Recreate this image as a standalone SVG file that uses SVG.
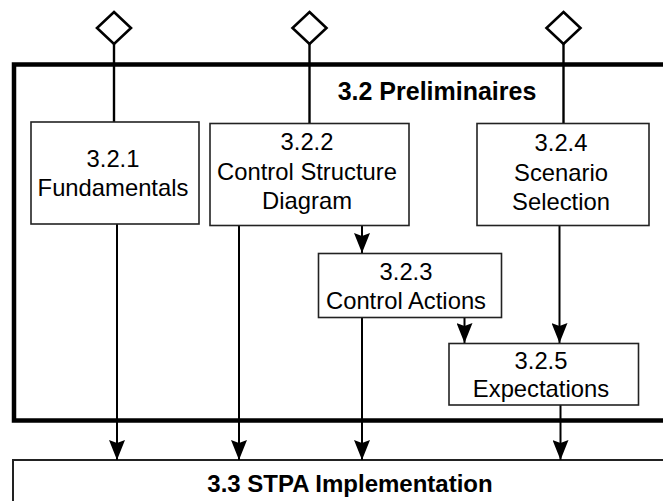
<svg xmlns="http://www.w3.org/2000/svg" width="663" height="501" viewBox="0 0 663 501">
  <defs>
    <style>
      .node rect { fill: #fff; stroke: #222; stroke-width: 1.6; }
      .label { font-family: "Liberation Sans", Arial, Helvetica, sans-serif; font-size: 23.8px; fill: #000; text-anchor: middle; }
      .title { font-family: "Liberation Sans", Arial, Helvetica, sans-serif; font-weight: bold; fill: #000; text-anchor: middle; }
      .wire { stroke: #000; stroke-width: 2; fill: none; }
      .feed { stroke: #000; stroke-width: 2.4; fill: none; }
      .diamond { fill: #fff; stroke: #000; stroke-width: 2.6; }
    </style>
    <marker id="head" markerUnits="userSpaceOnUse" markerWidth="20" markerHeight="16" viewBox="0 0 20 16" refX="20" refY="8" orient="auto">
      <path d="M0,0 L20,8 L0,16 L3,8 Z" fill="#000"/>
    </marker>
  </defs>

  <rect width="663" height="501" fill="#fff"/>

  <!-- Outer section: 3.2 Preliminaires -->
  <g id="section-3-2">
    <rect x="14" y="64.5" width="680" height="356" fill="none" stroke="#000" stroke-width="4.5"/>
    <text class="title" x="437" y="100" font-size="25px">3.2 Preliminaires</text>
  </g>

  <!-- Target section: 3.3 STPA Implementation -->
  <g id="section-3-3">
    <rect x="13" y="460" width="680" height="80" fill="#fff" stroke="#222" stroke-width="2"/>
    <text class="title" x="350" y="492" font-size="24px">3.3 STPA Implementation</text>
  </g>

  <!-- Connectors -->
  <g id="connectors">
    <!-- inputs from diamonds -->
    <line class="feed" x1="114" y1="44" x2="114" y2="122"/>
    <line class="feed" x1="309.5" y1="44" x2="309.5" y2="123"/>
    <line class="feed" x1="563.5" y1="44" x2="563.5" y2="123"/>
    <!-- flows -->
    <line class="wire" x1="117" y1="224" x2="117" y2="460" marker-end="url(#head)"/>
    <line class="wire" x1="239" y1="226" x2="239" y2="460" marker-end="url(#head)"/>
    <line class="wire" x1="362" y1="226" x2="362" y2="253" marker-end="url(#head)"/>
    <line class="wire" x1="362" y1="317" x2="362" y2="460" marker-end="url(#head)"/>
    <line class="wire" x1="464.5" y1="317" x2="464.5" y2="343" marker-end="url(#head)"/>
    <line class="wire" x1="559.5" y1="226" x2="559.5" y2="343" marker-end="url(#head)"/>
    <line class="wire" x1="560.5" y1="405" x2="560.5" y2="460" marker-end="url(#head)"/>
  </g>

  <!-- Diamond inputs -->
  <g id="input-1"><path class="diamond" d="M114,12 L131,28 L114,44 L97,28 Z"/></g>
  <g id="input-2"><path class="diamond" d="M309.5,12 L326.5,28 L309.5,44 L292.5,28 Z"/></g>
  <g id="input-3"><path class="diamond" d="M563.5,12 L580.5,28 L563.5,44 L546.5,28 Z"/></g>

  <g id="node-3-2-1" class="node">
    <rect x="31" y="122" width="168" height="102"/>
    <text class="label" x="113" y="166.5">3.2.1</text>
    <text class="label" x="113" y="196">Fundamentals</text>
  </g>

  <g id="node-3-2-2" class="node">
    <rect x="210" y="123.5" width="199" height="102"/>
    <text class="label" x="307" y="150">3.2.2</text>
    <text class="label" x="307" y="180">Control Structure</text>
    <text class="label" x="307" y="209">Diagram</text>
  </g>

  <g id="node-3-2-3" class="node">
    <rect x="318.5" y="253.5" width="183" height="64"/>
    <text class="label" x="406" y="279.5">3.2.3</text>
    <text class="label" x="406" y="308.5">Control Actions</text>
  </g>

  <g id="node-3-2-4" class="node">
    <rect x="477" y="123.5" width="172" height="102"/>
    <text class="label" x="561" y="150.5">3.2.4</text>
    <text class="label" x="561" y="180.5">Scenario</text>
    <text class="label" x="561" y="210">Selection</text>
  </g>

  <g id="node-3-2-5" class="node">
    <rect x="449" y="343.5" width="189.5" height="61.5"/>
    <text class="label" x="541" y="368.5">3.2.5</text>
    <text class="label" x="541" y="397">Expectations</text>
  </g>
</svg>
